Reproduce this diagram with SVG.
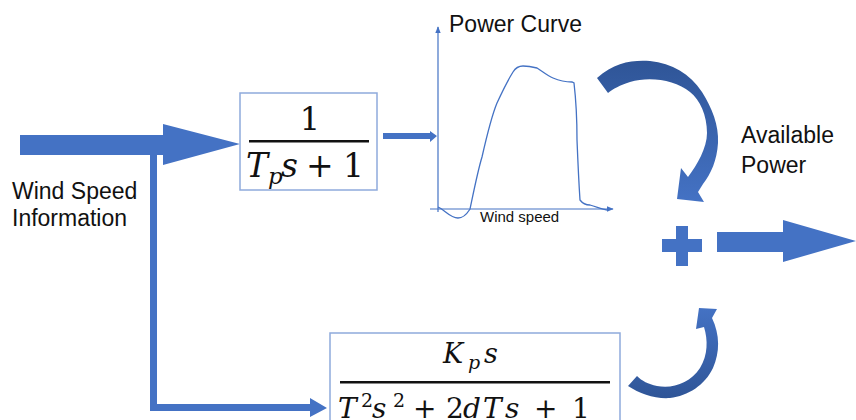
<svg xmlns="http://www.w3.org/2000/svg" width="856" height="420" viewBox="0 0 856 420">
<style>
.lbl{font-family:"Liberation Sans",Arial,sans-serif;fill:#111}
.math{font-family:"DejaVu Serif","Liberation Serif",serif;fill:#111}
.it{font-style:italic}
.box{fill:#fff;stroke:#8FAADC;stroke-width:1.5}
.blue{fill:#4472C4}
.axis{fill:none;stroke:#4472C4;stroke-width:1.2}
</style>
<defs>
<marker id="ah" viewBox="0 0 10 10" refX="9" refY="5" markerWidth="7" markerHeight="7" markerUnits="userSpaceOnUse" orient="auto">
<path d="M0,1 L10,5 L0,9 Z" fill="#4472C4"/>
</marker>
<linearGradient id="gTop" x1="0" y1="0" x2="0" y2="1">
<stop offset="0" stop-color="#2F5597"/>
<stop offset="1" stop-color="#4472C4"/>
</linearGradient>
<linearGradient id="gBot" x1="0" y1="0" x2="0" y2="1">
<stop offset="0" stop-color="#4472C4"/>
<stop offset="1" stop-color="#2F5597"/>
</linearGradient>
</defs>
<rect width="856" height="420" fill="#fff"/>

<g id="connectors">
<polygon class="blue" points="20,135 163,135 163,124 240,144 163,165 163,155 20,155"/>
<path class="blue" d="M150,155 L157,155 L157,404 L310,404 L310,398 L327,408 L310,417 L310,411 L150,411 Z"/>
<polygon class="blue" points="383,133 430,133 430,131 437,136 430,142 430,139 383,139"/>
<path fill="url(#gTop)" d="M597,78 C615,62 632,60 650,61 C672,63 690,74 702,92 C712,108 719,125 718,143 C717,160 711,174 703,184 L698,192 L704,202 L677,199 L681,168 L688,177 C697,165 707,148 707,133 C707,115 700,100 690,92 C675,80 650,76 630,82 C620,85 613,89 608,93 Z"/>
<path fill="url(#gBot)" d="M628,386 C640,394 655,399 670,398 C688,396 705,385 713,368 C720,352 720,335 712,318 L717,309 L699,308 L696,329 L704,327 C708,340 708,355 700,368 C690,383 673,389 657,386 C648,384 642,381 637,376 Z"/>
<polygon class="blue" points="717,232 783,232 783,220 856,241 783,262 783,252 717,252"/>
</g>

<g id="wind-input">
<text class="lbl" font-size="23" x="12" y="199">Wind Speed</text>
<text class="lbl" font-size="23" x="12" y="226">Information</text>
</g>

<g id="filter-block">
<rect class="box" x="240" y="93" width="137" height="97"/>
<text class="math" font-size="32" x="310" y="130" text-anchor="middle">1</text>
<rect x="249" y="140" width="120" height="2.5" fill="#111"/>
<text class="math" font-size="33" y="177"><tspan class="it" x="246">T</tspan><tspan class="it" x="268" y="184" font-size="23">p</tspan><tspan class="it" x="281" y="177">s</tspan><tspan x="306">+</tspan><tspan x="343">1</tspan></text>
</g>

<g id="power-curve">
<line class="axis" x1="438" y1="212" x2="438" y2="27" marker-end="url(#ah)"/>
<line class="axis" x1="430" y1="209" x2="613" y2="209" marker-end="url(#ah)"/>
<path fill="none" stroke="#4472C4" stroke-width="1.3" d="M438,207 C445,210 450,218 458,218 C465,218 468,212 470,209 C474,190 478,170 482,157 C487,135 492,115 497,103 C503,90 508,80 513,72 C516,67 519,66 523,66 C528,66 533,67 537,68 C543,72 548,76 553,78 C560,81 566,82 572,82 L574,83 C576,100 577,120 577,140 C578,165 579,185 580,200 C583,204 586,205 590,205 C597,207 602,209 607,210"/>
<text class="lbl" font-size="23" x="449" y="32">Power Curve</text>
<text class="lbl" font-size="15" x="480" y="222">Wind speed</text>
</g>

<g id="available-power">
<text class="lbl" font-size="23" x="741" y="143">Available</text>
<text class="lbl" font-size="23" x="741" y="173">Power</text>
</g>

<g id="sum">
<rect class="blue" x="662" y="239" width="40" height="13"/>
<rect class="blue" x="676" y="226" width="12" height="40"/>
</g>

<g id="dynamic-block">
<rect class="box" x="330" y="333" width="290" height="110"/>
<text class="math" font-size="27" y="363"><tspan class="it" x="443">K</tspan><tspan class="it" x="468" y="369" font-size="19">p</tspan><tspan class="it" x="484" y="363">s</tspan></text>
<rect x="340" y="381" width="270" height="2.5" fill="#111"/>
<text class="math" font-size="28" y="418"><tspan class="it" x="338">T</tspan><tspan x="361" y="407" font-size="19">2</tspan><tspan class="it" x="372" y="418">s</tspan><tspan x="393" y="407" font-size="19">2</tspan><tspan x="413" y="418">+</tspan><tspan x="446">2</tspan><tspan class="it" x="463">d</tspan><tspan class="it" x="483">T</tspan><tspan class="it" x="505">s</tspan><tspan x="534">+</tspan><tspan x="572">1</tspan></text>
</g>
</svg>
